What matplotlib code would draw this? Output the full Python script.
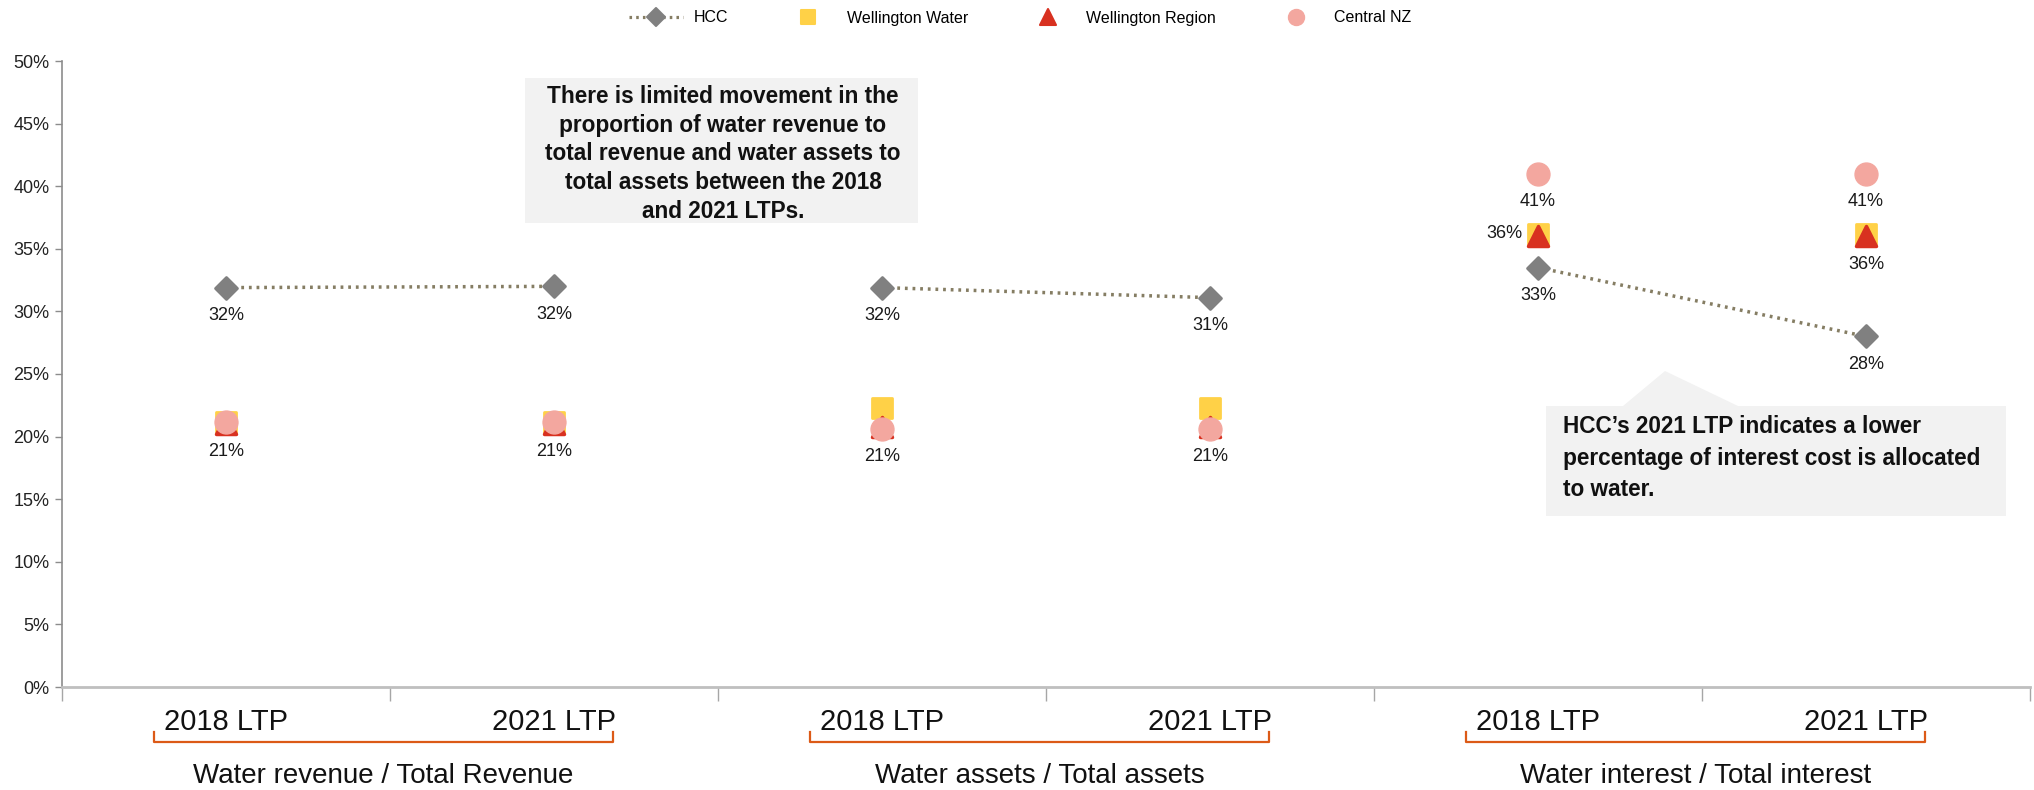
import matplotlib
matplotlib.use("Agg")
import matplotlib.pyplot as plt
from matplotlib.markers import MarkerStyle
from matplotlib.lines import Line2D
from matplotlib.patches import Polygon, Rectangle
from matplotlib.transforms import blended_transform_factory

plt.rcParams['font.family'] = ['Liberation Sans', 'DejaVu Sans']

# data (share of total, %)
tick_labels = ['2018 LTP', '2021 LTP', '2018 LTP', '2021 LTP', '2018 LTP', '2021 LTP']
group_labels = ['Water revenue / Total Revenue', 'Water assets / Total assets',
                'Water interest / Total interest']
hcc = [31.9, 32.0, 31.9, 31.1, 33.5, 28.0]
wellington_water = [21.2, 21.2, 22.3, 22.3, 36.2, 36.2]
wellington_region = [21.0, 21.0, 20.8, 20.8, 36.0, 36.0]
central_nz = [21.2, 21.2, 20.6, 20.6, 41.0, 41.0]

hcc_labels = ['32%', '32%', '32%', '31%', '33%', '28%']
cluster_labels = ['21%', '21%', '21%', '21%', '36%', '36%']
cnz_labels = ['', '', '', '', '41%', '41%']

note1 = ("There is limited movement in the\nproportion of water revenue to\n"
         "total revenue and water assets to\ntotal assets between the 2018\n"
         "and 2021 LTPs.")
note2 = ("HCC\u2019s 2021 LTP indicates a lower\npercentage of interest cost is allocated\n"
         "to water.")

C_HCC = '#808080'
C_LINE = '#857d63'
C_WW = '#FFD147'
C_WR = '#D83120'
C_CNZ = '#F3A79F'
C_BRACKET = '#DC5A17'
C_TXT = '#111111'

W, H = 2034, 790
fig = plt.figure(figsize=(W / 100, H / 100), dpi=100)
ax = fig.add_axes([62 / W, 1 - 687 / H, (2030 - 62) / W, (687 - 61) / H])

x = list(range(len(hcc)))

def mk(m):
    return MarkerStyle(m, joinstyle='round')

ax.plot(x, wellington_water, linestyle='none', marker=mk('s'), ms=15, color=C_WW,
        mec=C_WW, mew=2, label='Wellington Water', zorder=3)
ax.plot(x, wellington_region, linestyle='none', marker=mk('^'), ms=15, color=C_WR,
        mec=C_WR, mew=2.5, label='Wellington Region', zorder=4)
ax.plot(x, central_nz, linestyle='none', marker='o', ms=16.5, color=C_CNZ,
        mec=C_CNZ, label='Central NZ', zorder=5)
# HCC: connected within each group only
for g in range(3):
    xs = x[2 * g:2 * g + 2]
    ax.plot(xs, hcc[2 * g:2 * g + 2], color=C_LINE, lw=2.5, linestyle=(0, (0.8, 1.4)),
            zorder=2)
ax.plot(x, hcc, linestyle='none', marker=mk('D'), ms=11.5, color=C_HCC, mec=C_HCC,
        mew=2, zorder=6)

lbl = dict(fontsize=13, color='#1a1a1a', textcoords='offset points', ha='center',
           va='center', annotation_clip=False)
for i in x:
    ax.annotate(hcc_labels[i], (i, hcc[i]), xytext=(0, -20), **lbl)
    low = min(wellington_water[i], wellington_region[i], central_nz[i])
    if i == 4:
        ax.annotate(cluster_labels[i], (i, wellington_water[i]), xytext=(-24, 0), **lbl)
    else:
        ax.annotate(cluster_labels[i], (i, low), xytext=(0, -20), **lbl)
    if cnz_labels[i]:
        ax.annotate(cnz_labels[i], (i, central_nz[i]), xytext=(0, -20), **lbl)

ax.set_xlim(-0.5, len(x) - 0.5)
ax.set_ylim(0, 50)
ax.set_yticks(range(0, 51, 5))
ax.set_yticklabels([f'{v}%' for v in range(0, 51, 5)])
ax.set_xticks(x)
ax.set_xticklabels(tick_labels)
ax.set_xticks([i - 0.5 for i in range(len(x) + 1)], minor=True)
ax.tick_params(axis='x', which='major', length=0, pad=15, labelsize=21, labelcolor=C_TXT)
ax.tick_params(axis='x', which='minor', length=10, width=1, color='#A6A6A6', direction='out')
ax.tick_params(axis='y', length=5, width=1, color='#8C8C8C', labelsize=13, pad=4,
               labelcolor='#222222')
for s in ['top', 'right']:
    ax.spines[s].set_visible(False)
ax.spines['left'].set_color('#8C8C8C')
ax.spines['left'].set_linewidth(1.2)
ax.spines['bottom'].set_color('#BFBFBF')
ax.spines['bottom'].set_linewidth(2)

# group brackets and labels
tr = blended_transform_factory(ax.transData, fig.transFigure)
y_line, y_top = 1 - 742 / H, 1 - 732 / H
for g in range(3):
    x0, x1 = 2 * g - 0.22, 2 * g + 1 + 0.18
    fig.add_artist(Line2D([x0, x0, x1, x1], [y_top, y_line, y_line, y_top], transform=tr,
                          color=C_BRACKET, lw=1.6, clip_on=False))
    ax.text((x0 + x1) / 2, 1 - 776 / H, group_labels[g], transform=tr, ha='center',
            va='center', fontsize=20, color=C_TXT)

# callout boxes
fig.add_artist(Rectangle((525 / W, 1 - 223 / H), (918 - 525) / W, (223 - 78) / H,
                         transform=fig.transFigure, facecolor='#F2F2F2', edgecolor='none'))
fig.text(723 / W, 1 - 154 / H, note1, ha='center', va='center', fontsize=16.3,
         fontweight='bold', color=C_TXT, linespacing=1.33)
pts = [(1546, 406), (1623, 406), (1665, 371), (1738, 406), (2006, 406), (2006, 516), (1546, 516)]
fig.add_artist(Polygon([(px / W, 1 - py / H) for px, py in pts], closed=True,
                       transform=fig.transFigure, facecolor='#F2F2F2', edgecolor='none'))
fig.text(1563 / W, 1 - 458 / H, note2, ha='left', va='center', fontsize=16.3,
         fontweight='bold', color=C_TXT, linespacing=1.45)

# legend
handles = [
    Line2D([], [], color=C_LINE, lw=2.3, linestyle=(0, (0.8, 1.3)), marker=mk('D'), ms=9,
           mfc=C_HCC, mec=C_HCC, mew=1.5),
    Line2D([], [], linestyle='none', marker=mk('s'), ms=10.5, color=C_WW, mec=C_WW, mew=1.5),
    Line2D([], [], linestyle='none', marker=mk('^'), ms=11, color=C_WR, mec=C_WR, mew=1.5),
    Line2D([], [], linestyle='none', marker='o', ms=11.5, color=C_CNZ),
]
fig.legend(handles, ['HCC', 'Wellington Water', 'Wellington Region', 'Central NZ'],
           loc='center', bbox_to_anchor=(1020 / W, 1 - 18 / H), ncol=4, frameon=False,
           fontsize=11.5, handlelength=3.4, handletextpad=0.7, columnspacing=3.3)

fig.savefig('out.png', dpi=100)
